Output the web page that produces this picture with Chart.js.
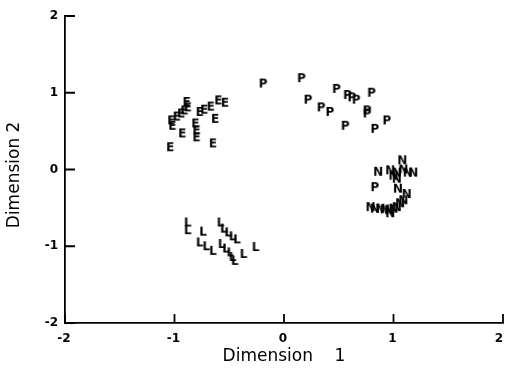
<!DOCTYPE html>
<html>
<head>
<meta charset="utf-8">
<script src="https://cdn.jsdelivr.net/npm/chart.js@4/dist/chart.umd.min.js"></script>
<style>
html,body{margin:0;padding:0;background:#fff;}
#c{display:block;}
</style>
</head>
<body>
<canvas id="c" width="505" height="377"></canvas>
<script>
// ---- data ----
const xTicks = [-2, -1, 0, 1, 2];
const yTicks = [-2, -1, 0, 1, 2];
const xTickLabels = ['-2', '-1', '0', '1', '2'];

const eX = [-1.04,-0.93,-1.03,-1.02,-0.98,-0.94,-0.91,-0.88,-0.89,-0.81,-0.80,-0.80,-0.77,-0.73,-0.67,-0.60,-0.54,-0.63,-0.65];
const eY = [ 0.29, 0.47, 0.64, 0.57, 0.69, 0.73, 0.77, 0.81, 0.88, 0.60, 0.51, 0.42, 0.75, 0.78, 0.82, 0.90, 0.87, 0.66, 0.34];

const pX = [-0.19,0.16,0.48,0.58,0.62,0.66,0.80,0.22,0.34,0.42,0.76,0.76,0.56,0.83,0.94,0.83];
const pY = [ 1.12,1.19,1.05,0.97,0.94,0.91,1.00,0.91,0.81,0.75,0.77,0.73,0.57,0.53,0.64,-0.23];

const nX = [0.86,1.08,0.97,1.00,1.03,1.09,1.13,1.18,1.04,1.03,0.79,0.83,0.88,0.92,0.96,1.00,1.03,1.06,1.09,1.12,0.97];
const nY = [-0.03,0.12,-0.01,-0.08,-0.04,0.00,-0.04,-0.04,-0.25,-0.12,-0.49,-0.51,-0.51,-0.52,-0.53,-0.51,-0.49,-0.44,-0.40,-0.32,-0.57];

const lX = [-0.88,-0.88,-0.74,-0.77,-0.71,-0.65,-0.58,-0.55,-0.51,-0.47,-0.43,-0.57,-0.53,-0.49,-0.47,-0.45,-0.37,-0.26];
const lY = [-0.69,-0.79,-0.81,-0.95,-1.00,-1.06,-0.69,-0.77,-0.82,-0.87,-0.91,-0.97,-1.03,-1.08,-1.14,-1.19,-1.10,-1.01];

const seriesLetters = ['E', 'P', 'N', 'L'];

// ---- build ----
const font = '"DejaVu Sans", sans-serif';
function letterCanvas(ch) {
  const cv = document.createElement('canvas');
  cv.width = 16; cv.height = 16;
  const g = cv.getContext('2d');
  g.fillStyle = '#000';
  g.font = 'bold 12px ' + font;
  g.textAlign = 'center';
  g.textBaseline = 'middle';
  g.fillText(ch, 8, 8.5);
  return cv;
}
function pts(xs, ys) { return xs.map((x, i) => ({x: x, y: ys[i]})); }

const allSeries = [pts(eX, eY), pts(pX, pY), pts(nX, nY), pts(lX, lY)];
const datasets = allSeries.map((d, i) => ({
  label: seriesLetters[i],
  data: d,
  pointStyle: letterCanvas(seriesLetters[i]),
  pointRadius: 5,
  pointHoverRadius: 5,
  showLine: false
}));

const axisExtras = {
  id: 'axisExtras',
  afterDraw(chart) {
    const ctx = chart.ctx, xs = chart.scales.x, ys = chart.scales.y;
    const a = chart.chartArea;
    ctx.save();
    ctx.strokeStyle = '#000';
    ctx.lineWidth = 1.8;
    ctx.beginPath();
    xTicks.forEach(v => {
      const px = xs.getPixelForValue(v);
      ctx.moveTo(px, a.bottom); ctx.lineTo(px, a.bottom - 9);
    });
    yTicks.forEach(v => {
      const py = ys.getPixelForValue(v);
      ctx.moveTo(a.left, py); ctx.lineTo(a.left + 10, py);
    });
    ctx.stroke();
    // x tick labels (kept inside the canvas at the right edge)
    ctx.fillStyle = '#000';
    ctx.font = 'bold 12px ' + font;
    ctx.textAlign = 'center';
    ctx.textBaseline = 'middle';
    xTicks.forEach((v, i) => {
      const t = xTickLabels[i];
      const w = ctx.measureText(t).width;
      let px = xs.getPixelForValue(v) - 1;
      px = Math.min(px, chart.width - 2 - w / 2);
      ctx.fillText(t, px, a.bottom + 16);
    });
    ctx.restore();
  }
};

new Chart(document.getElementById('c'), {
  type: 'scatter',
  data: { datasets: datasets },
  options: {
    responsive: false,
    animation: false,
    devicePixelRatio: 1,
    layout: { autoPadding: false, padding: { top: 16, right: 2, left: 0, bottom: 0 } },
    plugins: { legend: { display: false }, tooltip: { enabled: false } },
    scales: {
      x: {
        type: 'linear', min: -2, max: 2,
        afterBuildTicks: s => { s.ticks = xTicks.map(v => ({value: v})); },
        afterFit: s => { s.height = 54; s.paddingLeft = 0; s.paddingRight = 0; },
        grid: { display: false, drawTicks: false },
        border: { display: true, color: '#000', width: 1.8 },
        ticks: { display: false },
        title: { display: true, text: 'Dimension    1', color: '#000', font: { family: font, size: 17 }, padding: { top: 4, bottom: 10 } }
      },
      y: {
        type: 'linear', min: -2, max: 2,
        afterBuildTicks: s => { s.ticks = yTicks.map(v => ({value: v})); },
        afterFit: s => { s.width = 65; },
        grid: { display: false, drawTicks: false },
        border: { display: true, color: '#000', width: 1.8 },
        ticks: { color: '#000', font: { family: font, size: 12, weight: 'bold' }, padding: 7 },
        title: { display: true, text: 'Dimension 2  ', color: '#000', font: { family: font, size: 17 }, padding: { top: 4, bottom: 4 } }
      }
    }
  },
  plugins: [axisExtras]
});
</script>
</body>
</html>
